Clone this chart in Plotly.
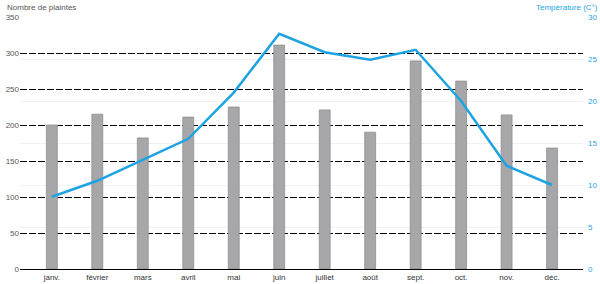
import plotly.graph_objects as go

months = ["janv.", "février", "mars", "avril", "mai", "juin", "juillet", "août", "sept.", "oct.", "nov.", "déc."]
plaintes = [200, 215, 182, 211, 225, 311, 221, 190, 289, 261, 214, 168]
temperature = [8.6, 10.5, 13.0, 15.5, 21.0, 28.0, 25.8, 24.9, 26.1, 20.0, 12.3, 10.0]

FONT = "Liberation Sans Narrow, Arial Narrow, Liberation Sans, sans-serif"
BLUE = "#1ea3e2"

xs = list(range(len(months)))

fig = go.Figure()
fig.add_trace(go.Bar(x=xs, y=plaintes, width=0.24,
                     marker=dict(color="#a7a7aa", line=dict(color="#8f8f93", width=0.8)),
                     yaxis="y"))
fig.add_trace(go.Scatter(x=xs, y=temperature, mode="lines",
                         line=dict(color=BLUE, width=2.5), yaxis="y2"))

fig.update_layout(
    width=600, height=284,
    margin=dict(l=20, r=17, t=17, b=15),
    paper_bgcolor="white", plot_bgcolor="white",
    showlegend=False,
    font=dict(family=FONT, size=8, color="#555555"),
    xaxis=dict(range=[-0.7, 11.68], tickmode="array", tickvals=xs, ticktext=months,
               showgrid=False, showline=True, linecolor="black", linewidth=1.2,
               ticks="", tickfont=dict(size=8, color="#333333"), zeroline=False,
               automargin=False, ticklabelstandoff=0),
    yaxis=dict(range=[0, 350], dtick=50, showgrid=True, gridcolor="black",
               griddash="7px,2px", gridwidth=1, zeroline=False, showline=False,
               ticks="", tickfont=dict(size=8, color="#555555"), automargin=False),
    yaxis2=dict(range=[0, 30], dtick=5, overlaying="y", side="right",
                showgrid=True, gridcolor="#f1f1f1", gridwidth=1, zeroline=False,
                ticks="", tickfont=dict(size=8, color=BLUE), automargin=False,
                ticklabelstandoff=4),
    annotations=[
        dict(text="Nombre de plaintes", xref="paper", yref="paper", x=-0.027, y=1.0,
             xanchor="left", yanchor="bottom", yshift=3, showarrow=False,
             font=dict(size=8, color="#555555", family=FONT)),
        dict(text="Température (C°)", xref="paper", yref="paper", x=1.03, y=1.0,
             xanchor="right", yanchor="bottom", yshift=3, showarrow=False,
             font=dict(size=8, color=BLUE, family=FONT)),
    ],
)

fig.write_html("out.html")
